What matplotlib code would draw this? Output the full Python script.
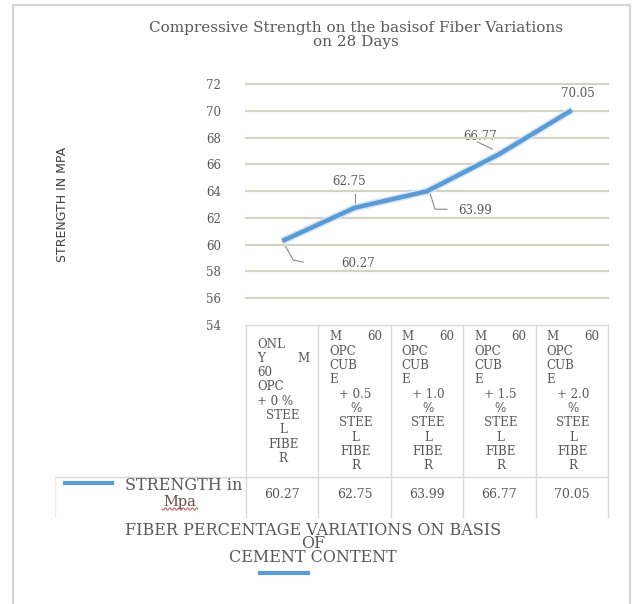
import numpy as np
import matplotlib.pyplot as plt
import matplotlib.patheffects as pe

# data
fiber_pct = ['0', '0.5', '1.0', '1.5', '2.0']
strength = [60.27, 62.75, 63.99, 66.77, 70.05]
yticks = np.arange(54, 73, 2)
series_name = 'STRENGTH in'
series_unit = 'Mpa'
title = 'Compressive Strength on the basisof Fiber Variations\non 28 Days'
ylabel = 'STRENGTH IN MPA'
xlabel = ['FIBER PERCENTAGE VARIATIONS ON BASIS', 'OF', 'CEMENT CONTENT']

# header cell lines (text, align) ; '|' splits a justified line
head_first = [('ONL', 'l'), ('Y|M', 'j'), ('60', 'l'), ('OPC', 'l'),
              ('+ 0 %', 'l'), ('STEE', 'c'), ('L', 'c'), ('FIBE', 'c'), ('R', 'c')]
head_other = [('M|60', 'j'), ('OPC', 'l'), ('CUB', 'l'), ('E', 'l'),
              ('+ {}', 'c'), ('%', 'c'), ('STEE', 'c'), ('L', 'c'), ('FIBE', 'c'), ('R', 'c')]

GRAY = '#595959'
SERIF = 'DejaVu Serif'
BLUE = '#5B9BD5'

W, H = 638, 604
fig = plt.figure(figsize=(W / 100, H / 100), dpi=100)

# overlay in pixel coordinates for frame/table
ov = fig.add_axes([0, 0, 1, 1])
ov.set_xlim(0, W)
ov.set_ylim(H, 0)
ov.axis('off')

# outer chart border
ov.plot([13, 13, 630, 630], [H, 5, 5, H], color='#d4d4d4', lw=1.5)

# plot area
left, right, top, bottom = 246, 608, 84, 325
ax = fig.add_axes([left / W, 1 - bottom / H, (right - left) / W, (bottom - top) / H])
ax.set_facecolor('none')
ax.set_xlim(-0.5, 4.5)
ax.set_ylim(54, 72)
for s in ax.spines.values():
    s.set_visible(False)
ax.set_xticks([])
ax.set_yticks(yticks)
ax.set_yticklabels([str(t) for t in yticks], family=SERIF, fontsize=8.5, color=GRAY)
ax.tick_params(axis='y', length=0, pad=18)
for t in yticks[1:]:
    ax.axhline(t, color='#d3d3c6', lw=1.6, zorder=1, clip_on=False)

x = np.arange(len(strength))
ax.plot(x, strength, color=BLUE, lw=3.2, solid_capstyle='butt', zorder=3,
        path_effects=[pe.Stroke(linewidth=5.5, foreground='#d6e6f5'), pe.Normal()])

# data labels: (text offset px, leader polyline offsets px) relative to point
label_style = [
    ((76, 22), [(1, 1), (11, 19), (21, 21)]),
    ((-6, -26), [(0, -1), (0, -14)]),
    ((48, 19), [(3, 2), (8, 18), (20, 18)]),
    ((-19, -18), [(-22, -12), (-7, -5)]),
    ((6, -17), []),
]
for xi, v, (off, lead) in zip(x, strength, label_style):
    px, py = ax.transData.transform((xi, v))
    py = H - py
    ov.text(px + off[0], py + off[1], f'{v:.2f}', family=SERIF, fontsize=8.5,
            color=GRAY, ha='center', va='center')
    if lead:
        ov.plot([px + a for a, b in lead], [py + b for a, b in lead], color='#8c8c8c', lw=0.8)

# table
n = len(strength)
cw = (right - left) / n
hdr_bot, tab_bot = 477, 517
lc = '#d9d9d9'
ov.plot([left, right], [bottom, bottom], color=lc, lw=1)
ov.plot([55, right], [hdr_bot, hdr_bot], color=lc, lw=1)
ov.plot([55, 55], [hdr_bot, tab_bot], color='#ececec', lw=1)
for i in range(n + 1):
    ov.plot([left + i * cw] * 2, [bottom, tab_bot], color=lc, lw=1)

step = 14.3
for i in range(n):
    cl = left + i * cw
    tl, tr = cl + 11, cl + cw - 9
    lines = head_first if i == 0 else head_other
    y0 = 337 if len(lines) == 10 else 344
    for k, (txt, al) in enumerate(lines):
        txt = txt.format(fiber_pct[i])
        yy = y0 + k * step
        kw = dict(family=SERIF, fontsize=8.6, color=GRAY, va='center')
        if al == 'j':
            a, b = txt.split('|')
            ov.text(tl, yy, a, ha='left', **kw)
            ov.text(tr, yy, b, ha='right', **kw)
        elif al == 'l':
            ov.text(tl, yy, txt, ha='left', **kw)
        else:
            ov.text((tl + tr) / 2, yy, txt, ha='center', **kw)
    ov.text(cl + cw / 2, 495, f'{strength[i]:.2f}', family=SERIF, fontsize=9,
            color=GRAY, ha='center', va='center')

# legend key in row header
ov.plot([65, 112], [483, 483], color=BLUE, lw=3)
ov.text(242, 485, series_name, family=SERIF, fontsize=11.5, color=GRAY, ha='right', va='center')
ov.text(180, 502, series_unit, family=SERIF, fontsize=10.5, color='#6b4a4a', ha='center', va='center')
sq = np.linspace(162, 198, 60)
ov.plot(sq, 509 + 1.2 * np.sin((sq - 162) * 1.4), color='#d05050', lw=0.7)

# titles
ov.text(356, 35, title, family=SERIF, fontsize=11, color=GRAY, ha='center', va='center',
        linespacing=0.95)
ov.text(313, 544, '\n'.join(xlabel), family=SERIF, fontsize=11.5, color=GRAY,
        ha='center', va='center', linespacing=0.76)
ov.plot([260, 308], [573, 573], color=BLUE, lw=3)

ov.text(62, 204, ylabel, family=['Liberation Sans Narrow', 'DejaVu Sans'], fontsize=9,
        color='#404040', rotation=90, ha='center', va='center')

fig.savefig('out.png', dpi=100)
